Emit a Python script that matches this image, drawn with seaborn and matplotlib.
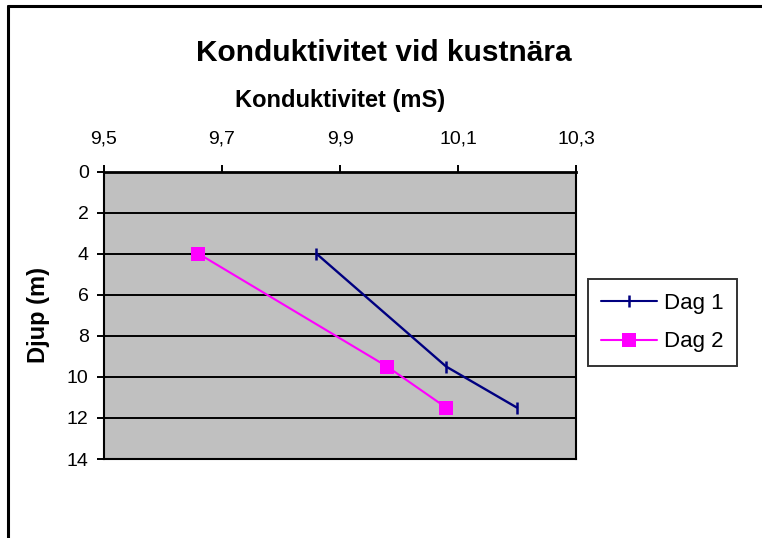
import matplotlib
matplotlib.use("Agg")
import matplotlib.pyplot as plt
from matplotlib.lines import Line2D
import pandas as pd
import seaborn as sns

# Data
DEPTH = [4, 9.5, 11.5]
DAG1 = [9.86, 10.08, 10.20]
DAG2 = [9.66, 9.98, 10.08]
SERIES = ["Dag 1", "Dag 2"]
X_TICKS = [9.5, 9.7, 9.9, 10.1, 10.3]
X_TICK_LABELS = ["9,5", "9,7", "9,9", "10,1", "10,3"]
Y_TICKS = [0, 2, 4, 6, 8, 10, 12, 14]

COLORS = {"Dag 1": "#000080", "Dag 2": "#FF00FF"}
MARKERS = {"Dag 1": "|", "Dag 2": "s"}

sns.set_theme(style="white")
plt.rcParams["font.family"] = ["Liberation Sans", "DejaVu Sans"]
plt.rcParams.update({
    "text.color": "black",
    "axes.labelcolor": "black",
    "xtick.color": "black",
    "ytick.color": "black",
})

df = pd.DataFrame({
    "depth": DEPTH * 2,
    "cond": DAG1 + DAG2,
    "serie": [SERIES[0]] * len(DEPTH) + [SERIES[1]] * len(DEPTH),
})

fig = plt.figure(figsize=(7.62, 5.38), dpi=100)
ax = fig.add_axes([104 / 762, 1 - 459 / 538, 472 / 762, 287.5 / 538])
ax.set_facecolor("#C0C0C0")

for y in Y_TICKS[1:-1]:
    ax.axhline(y, color="black", linewidth=1.4, zorder=1)

for name in SERIES:
    sub = df[df["serie"] == name]
    sns.lineplot(
        data=sub, x="cond", y="depth", sort=False, estimator=None, ax=ax,
        color=COLORS[name], linewidth=1.7 if name == "Dag 1" else 1.5,
        marker=MARKERS[name],
        markersize=9.5 if name == "Dag 2" else 9,
        markeredgewidth=1.8 if name == "Dag 1" else 0,
        markeredgecolor=COLORS[name], markerfacecolor=COLORS[name],
        legend=False, zorder=3,
    )

ax.set_xlim(X_TICKS[0], X_TICKS[-1])
ax.set_ylim(Y_TICKS[-1], Y_TICKS[0])
ax.xaxis.tick_top()
ax.xaxis.set_label_position("top")
ax.set_xticks(X_TICKS)
ax.set_xticklabels(X_TICK_LABELS)
ax.set_yticks(Y_TICKS)
ax.tick_params(axis="x", direction="out", length=5, width=1.4, pad=12,
               labelsize=14, top=True, bottom=False)
ax.tick_params(axis="y", direction="out", length=5, width=1.4, pad=6,
               labelsize=14, left=True)
ax.set_xlabel("Konduktivitet (mS)", fontsize=17, fontweight="bold", labelpad=17)
ax.set_ylabel("Djup (m)", fontsize=17, fontweight="bold", labelpad=12)

for side, spine in ax.spines.items():
    spine.set_color("black")
    spine.set_linewidth(2.0 if side == "top" else 1.5)

fig.text(384 / 762, 1 - 53 / 538, "Konduktivitet vid kustnära",
         ha="center", va="center", fontsize=21.5, fontweight="bold")

handles = [
    Line2D([0], [0], color=COLORS[n], linewidth=1.5, marker=MARKERS[n],
           markersize=9 if n == "Dag 1" else 9.5,
           markeredgewidth=1.8 if n == "Dag 1" else 0,
           markeredgecolor=COLORS[n], markerfacecolor=COLORS[n])
    for n in SERIES
]
leg = fig.legend(handles, SERIES, loc="center left",
                 bbox_to_anchor=(588 / 762, 1 - 322.5 / 538),
                 fontsize=16, frameon=True, fancybox=False, shadow=False,
                 handlelength=2.5, handletextpad=0.3, borderpad=0.6,
                 labelspacing=0.8, borderaxespad=0)
leg.get_frame().set_edgecolor("black")
leg.get_frame().set_linewidth(1.4)

# outer chart border (top and left edges visible in the reference)
fig.add_artist(Line2D([8 / 762, 1], [1 - 6 / 538, 1 - 6 / 538],
                      transform=fig.transFigure, color="black", linewidth=2.2))
fig.add_artist(Line2D([8 / 762, 8 / 762], [0, 1 - 6 / 538],
                      transform=fig.transFigure, color="black", linewidth=2.2))

fig.savefig("out.png", dpi=100)
